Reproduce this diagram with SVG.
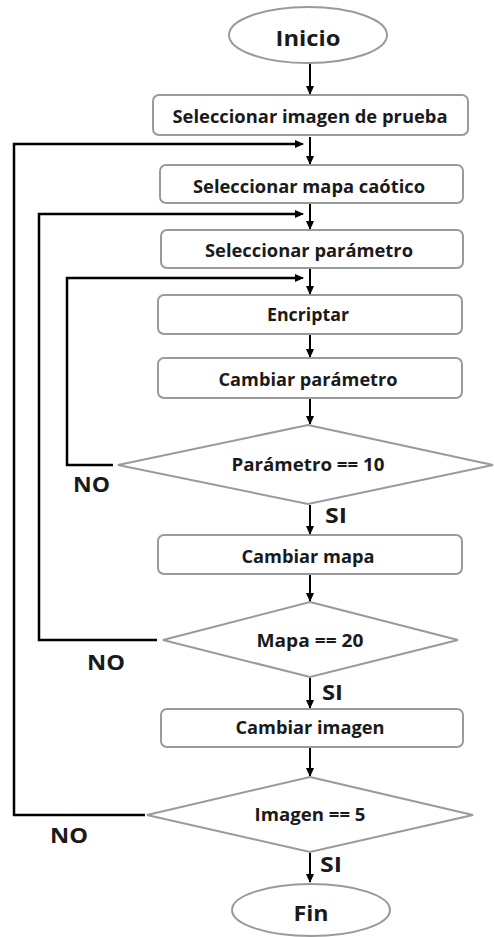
<svg xmlns="http://www.w3.org/2000/svg" width="494" height="937" viewBox="0 0 494 937">
<defs>
<marker id="ah" markerWidth="9" markerHeight="9" refX="8" refY="4" orient="auto" markerUnits="userSpaceOnUse">
<path d="M0,0 L9,4 L0,8 Z" fill="#000"/>
</marker>
</defs>
<style>
.shape{fill:#fff;stroke:#9a9a9a;stroke-width:2}
.t{font-family:"Open Sans","Noto Sans",sans-serif;font-weight:bold;fill:#1a1a1a;text-anchor:middle}
.lbl{font-family:"Open Sans","Noto Sans",sans-serif;font-weight:bold;fill:#1a1a1a}
.c{fill:none;stroke:#000;stroke-width:2.5}
.a{fill:none;stroke:#000;stroke-width:2;marker-end:url(#ah)}
</style>
<rect width="494" height="937" fill="#fff"/>
<g id="connectors">
<path class="a" d="M310,63 V94"/>
<path class="a" d="M310,137 V164"/>
<path class="a" d="M310,204 V229"/>
<path class="a" d="M310,269 V294"/>
<path class="a" d="M310,335 V357"/>
<path class="a" d="M310,399 V424"/>
<path class="a" d="M310,505 V534"/>
<path class="a" d="M310,575 V601"/>
<path class="a" d="M310,678 V708"/>
<path class="a" d="M310,748 V776"/>
<path class="a" d="M310,853 V882"/>
<path class="c" d="M113,465 H67 V278 H296"/>
<path class="a" d="M290,278 H303"/>
<path class="c" d="M157,640 H39 V214 H296"/>
<path class="a" d="M290,214 H303"/>
<path class="c" d="M145,815 H14 V144 H296"/>
<path class="a" d="M290,144 H303"/>
<text class="lbl" x="73" y="492" font-size="21" textLength="37" lengthAdjust="spacingAndGlyphs">NO</text>
<text class="lbl" x="87" y="670" font-size="21" textLength="38" lengthAdjust="spacingAndGlyphs">NO</text>
<text class="lbl" x="50" y="843" font-size="21" textLength="38" lengthAdjust="spacingAndGlyphs">NO</text>
<text class="lbl" x="325" y="523" font-size="21" textLength="22" lengthAdjust="spacingAndGlyphs">SI</text>
<text class="lbl" x="322" y="700" font-size="21" textLength="21" lengthAdjust="spacingAndGlyphs">SI</text>
<text class="lbl" x="320" y="872" font-size="21" textLength="22" lengthAdjust="spacingAndGlyphs">SI</text>
</g>
<g id="inicio">
<ellipse class="shape" cx="308" cy="35" rx="79" ry="28"/>
<text class="t" x="308" y="46" font-size="21" textLength="65" lengthAdjust="spacingAndGlyphs">Inicio</text>
</g>
<g id="sel-imagen">
<rect class="shape" x="153" y="95" width="315" height="40" rx="6"/>
<text class="t" x="310" y="123" font-size="18" textLength="275" lengthAdjust="spacingAndGlyphs">Seleccionar imagen de prueba</text>
</g>
<g id="sel-mapa">
<rect class="shape" x="160" y="165" width="303" height="38" rx="6"/>
<text class="t" x="309" y="193" font-size="18" textLength="232" lengthAdjust="spacingAndGlyphs">Seleccionar mapa caótico</text>
</g>
<g id="sel-parametro">
<rect class="shape" x="161" y="230" width="302" height="38" rx="6"/>
<text class="t" x="309" y="257" font-size="18" textLength="208" lengthAdjust="spacingAndGlyphs">Seleccionar parámetro</text>
</g>
<g id="encriptar">
<rect class="shape" x="158" y="295" width="304" height="39" rx="6"/>
<text class="t" x="308" y="321" font-size="18" textLength="82" lengthAdjust="spacingAndGlyphs">Encriptar</text>
</g>
<g id="cambiar-parametro">
<rect class="shape" x="158" y="358" width="304" height="40" rx="6"/>
<text class="t" x="308" y="386" font-size="18" textLength="179" lengthAdjust="spacingAndGlyphs">Cambiar parámetro</text>
</g>
<g id="dec-parametro">
<polygon class="shape" points="308,425 493,465 308,504 118,465"/>
<text class="t" x="308" y="471" font-size="17" textLength="153" lengthAdjust="spacingAndGlyphs">Parámetro == 10</text>
</g>
<g id="cambiar-mapa">
<rect class="shape" x="158" y="535" width="304" height="39" rx="6"/>
<text class="t" x="308" y="563" font-size="18" textLength="133" lengthAdjust="spacingAndGlyphs">Cambiar mapa</text>
</g>
<g id="dec-mapa">
<polygon class="shape" points="310,602 458,640 310,677 163,640"/>
<text class="t" x="310" y="647" font-size="17" textLength="107" lengthAdjust="spacingAndGlyphs">Mapa == 20</text>
</g>
<g id="cambiar-imagen">
<rect class="shape" x="161" y="709" width="302" height="38" rx="6"/>
<text class="t" x="310" y="734" font-size="18" textLength="149" lengthAdjust="spacingAndGlyphs">Cambiar imagen</text>
</g>
<g id="dec-imagen">
<polygon class="shape" points="310,777 473,815 310,852 147,815"/>
<text class="t" x="310" y="821" font-size="17" textLength="111" lengthAdjust="spacingAndGlyphs">Imagen == 5</text>
</g>
<g id="fin">
<ellipse class="shape" cx="311" cy="910" rx="79" ry="26"/>
<text class="t" x="311" y="921" font-size="22" textLength="35" lengthAdjust="spacingAndGlyphs">Fin</text>
</g>
</svg>
